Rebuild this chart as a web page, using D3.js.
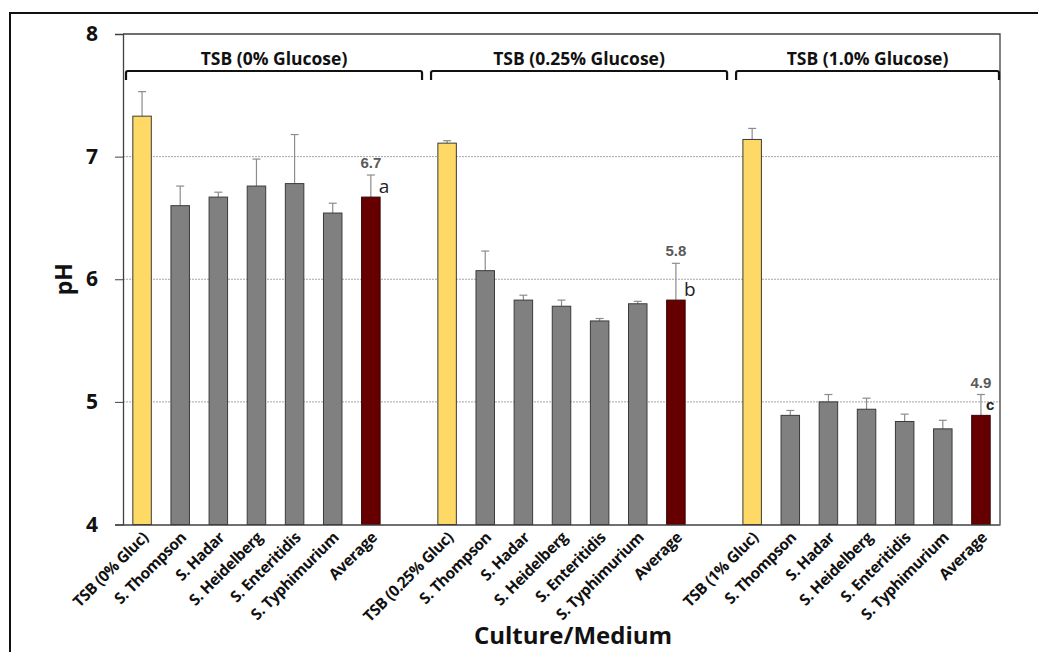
<!DOCTYPE html>
<html>
<head>
<meta charset="utf-8">
<script src="https://cdn.jsdelivr.net/npm/d3@7"></script>
<style>
  html, body { margin: 0; padding: 0; background: #fff; }
  svg { display: block; }
</style>
</head>
<body>
<svg id="chart" width="1038" height="652"></svg>
<script>
// Medium groups and the cultures measured in each
const groupTitles = ["TSB (0% Glucose)", "TSB (0.25% Glucose)", "TSB (1.0% Glucose)"];
const groupCategories = [
  ["TSB (0% Gluc)", "S. Thompson", "S. Hadar", "S. Heidelberg", "S. Enteritidis", "S. Typhimurium", "Average"],
  ["TSB (0.25% Gluc)", "S. Thompson", "S. Hadar", "S. Heidelberg", "S. Enteritidis", "S. Typhimurium", "Average"],
  ["TSB (1% Gluc)", "S. Thompson", "S. Hadar", "S. Heidelberg", "S. Enteritidis", "S. Typhimurium", "Average"]
];
// Mean pH per culture, one array per medium
const phGlucose0   = [7.33, 6.60, 6.67, 6.76, 6.78, 6.54, 6.67];
const phGlucose025 = [7.11, 6.07, 5.83, 5.78, 5.66, 5.80, 5.83];
const phGlucose1   = [7.14, 4.89, 5.00, 4.94, 4.84, 4.78, 4.89];
// Standard deviations (upper error bars)
const sdGlucose0   = [0.20, 0.16, 0.04, 0.22, 0.40, 0.08, 0.18];
const sdGlucose025 = [0.02, 0.16, 0.04, 0.05, 0.02, 0.02, 0.30];
const sdGlucose1   = [0.09, 0.04, 0.06, 0.09, 0.06, 0.07, 0.17];
// Average labels and significance letters
const averageLabels = ["6.7", "5.8", "4.9"];
const significance = ["a", "b", "c"];
const yTicks = [4, 5, 6, 7, 8];
const gridValues = [5, 6, 7];

const phSeries = [phGlucose0, phGlucose025, phGlucose1];
const sdSeries = [sdGlucose0, sdGlucose025, sdGlucose1];

// Flatten into rows; each group takes 7 slots followed by one empty slot
const rows = [];
groupCategories.forEach((cats, g) => {
  cats.forEach((c, i) => {
    rows.push({
      key: g + "-" + i, group: g, index: i, label: c,
      value: phSeries[g][i], sd: sdSeries[g][i],
      kind: i === 0 ? "control" : (i === cats.length - 1 ? "average" : "culture")
    });
  });
});
const slotKeys = [];
groupCategories.forEach((cats, g) => {
  cats.forEach((c, i) => slotKeys.push(g + "-" + i));
  if (g < groupCategories.length - 1) slotKeys.push("gap" + g);
});

const svg = d3.select("#chart");
const margin = { left: 123, right: 1000, top: 34, bottom: 524.5 };

const x = d3.scaleBand()
  .domain(slotKeys)
  .range([margin.left, margin.right])
  .paddingInner(0.515)
  .paddingOuter(0.2575);

const y = d3.scaleLinear().domain([4, 8]).range([margin.bottom, margin.top]);

const fills = { control: "#FFD966", culture: "#808080", average: "#660000" };
const strokes = { control: "#3a3a3a", culture: "#3a3a3a", average: "#3a0000" };
const sans = "'Open Sans', 'DejaVu Sans', sans-serif";

// Outer frame
svg.append("rect")
  .attr("x", 10).attr("y", 13)
  .attr("width", 1100).attr("height", 700)
  .attr("fill", "none").attr("stroke", "#111").attr("stroke-width", 2);

// Dashed gridlines
svg.append("g").selectAll("line")
  .data(gridValues)
  .join("line")
  .attr("x1", margin.left).attr("x2", margin.right)
  .attr("y1", d => y(d)).attr("y2", d => y(d))
  .attr("stroke", "#a6a6a6").attr("stroke-width", 1)
  .attr("stroke-dasharray", "2,1");

// Plot area border (top and right)
svg.append("path")
  .attr("d", `M${margin.left},${y(8)}H${margin.right}V${y(4)}`)
  .attr("fill", "none").attr("stroke", "#404040").attr("stroke-width", 1.3);

// Error bars (upper only)
const step = x.step();
const err = svg.append("g").attr("stroke", "#8c8c8c").attr("stroke-width", 1.2);
rows.forEach(d => {
  const cx = x(d.key) + x.bandwidth() / 2;
  err.append("line").attr("x1", cx).attr("x2", cx)
    .attr("y1", y(d.value)).attr("y2", y(d.value + d.sd));
  err.append("line").attr("x1", cx - 4).attr("x2", cx + 4)
    .attr("y1", y(d.value + d.sd)).attr("y2", y(d.value + d.sd));
});

// Bars
svg.append("g").selectAll("rect")
  .data(rows)
  .join("rect")
  .attr("x", d => x(d.key))
  .attr("y", d => y(d.value))
  .attr("width", x.bandwidth())
  .attr("height", d => y(4) - y(d.value))
  .attr("fill", d => fills[d.kind])
  .attr("stroke", d => strokes[d.kind])
  .attr("stroke-width", 1);

// Y axis
const yAxis = svg.append("g")
  .attr("transform", `translate(${margin.left},0)`)
  .call(d3.axisLeft(y).tickValues(yTicks).tickSize(8).tickPadding(17).tickFormat(d3.format("d")));
yAxis.select(".domain").attr("stroke", "#404040").attr("stroke-width", 1.3);
yAxis.selectAll(".tick line").attr("stroke", "#404040");
yAxis.selectAll(".tick text")
  .attr("font-family", sans).attr("font-weight", "bold").attr("font-size", 21).attr("fill", "#111");

// X axis baseline
const xAxis = svg.append("g")
  .attr("transform", `translate(0,${y(4)})`)
  .call(d3.axisBottom(x).tickSize(0).tickFormat(""));
xAxis.select(".domain").attr("stroke", "#404040").attr("stroke-width", 1.3);
xAxis.selectAll(".tick").remove();

// Rotated category labels
svg.append("g").selectAll("text")
  .data(rows)
  .join("text")
  .attr("transform", d => `translate(${x(d.key) + x.bandwidth() / 2 + 7},${y(4) + 14}) rotate(-45)`)
  .attr("text-anchor", "end")
  .attr("font-family", sans).attr("font-weight", "bold").attr("font-size", 15.5)
  .attr("letter-spacing", -0.4)
  .attr("fill", "#111")
  .text(d => d.label);

// Group brackets and titles
const bracketY = 71;
groupTitles.forEach((t, g) => {
  const first = g + "-0";
  const x0 = x(first) - (step - x.bandwidth()) / 2 + 3;
  const x1 = Math.min(x0 + 8 * step - 9, margin.right - 1);
  svg.append("path")
    .attr("d", `M${x0},${bracketY + 9}V${bracketY + 2}Q${x0},${bracketY} ${x0 + 2},${bracketY}H${x1 - 2}Q${x1},${bracketY} ${x1},${bracketY + 2}V${bracketY + 9}`)
    .attr("fill", "none").attr("stroke", "#111").attr("stroke-width", 2.2);
  svg.append("text")
    .attr("x", (x0 + x1) / 2).attr("y", bracketY - 6)
    .attr("text-anchor", "middle")
    .attr("font-family", sans).attr("font-weight", "bold").attr("font-size", 17.5)
    .attr("fill", "#111")
    .text(t);
});

// Average value labels and significance letters
rows.filter(d => d.kind === "average").forEach(d => {
  const cx = x(d.key) + x.bandwidth() / 2;
  const top = y(d.value + d.sd);
  svg.append("text")
    .attr("x", cx).attr("y", top - 7)
    .attr("text-anchor", "middle")
    .attr("font-family", "'Liberation Sans', Arial, sans-serif").attr("font-weight", "bold")
    .attr("font-size", 15).attr("fill", "#595959")
    .text(averageLabels[d.group]);
  const isC = d.group === 2;
  svg.append("text")
    .attr("x", cx + (isC ? 5 : 8)).attr("y", isC ? y(d.value) - 5 : y(d.value) - 4)
    .attr("font-family", isC ? "'Liberation Sans', Arial, sans-serif" : sans)
    .attr("font-weight", isC ? "bold" : "normal")
    .attr("font-size", isC ? 15 : 19).attr("fill", "#222")
    .text(significance[d.group]);
});

// Axis titles
svg.append("text")
  .attr("transform", `translate(72,${(y(4) + y(8)) / 2}) rotate(-90)`)
  .attr("text-anchor", "middle")
  .attr("font-family", sans).attr("font-weight", "bold").attr("font-size", 23).attr("fill", "#111")
  .text("pH");

svg.append("text")
  .attr("x", 573).attr("y", 644)
  .attr("text-anchor", "middle")
  .attr("font-family", sans).attr("font-weight", "bold").attr("font-size", 24).attr("fill", "#111")
  .text("Culture/Medium");
</script>
</body>
</html>
